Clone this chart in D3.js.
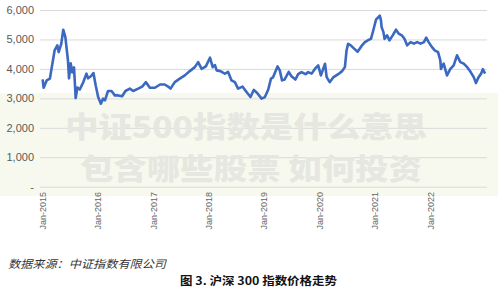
<!DOCTYPE html>
<html>
<head>
<meta charset="utf-8">
<script src="https://cdn.jsdelivr.net/npm/d3@7"></script>
<style>
  html, body { margin: 0; padding: 0; background: #fff; }
  svg { display: block; }
</style>
</head>
<body>
<div id="chart"></div>
<script>
// CSI 300 closing level
const dates = [
  "2015-01-05","2015-01-12","2015-02-01","2015-02-22","2015-03-25","2015-04-12","2015-04-21","2015-05-08",
  "2015-05-21","2015-06-04","2015-06-21","2015-06-28","2015-07-09","2015-07-20","2015-07-31","2015-08-11",
  "2015-08-22","2015-09-07","2015-09-29","2015-10-21","2015-11-01","2015-11-19","2015-12-06","2015-12-21",
  "2016-01-06","2016-01-24","2016-02-08","2016-02-20","2016-03-11","2016-04-03","2016-04-25","2016-05-16",
  "2016-06-12","2016-07-04","2016-08-02","2016-08-24","2016-09-26","2016-10-22","2016-11-16","2016-12-12",
  "2017-01-14","2017-02-17","2017-03-20","2017-04-11","2017-04-27","2017-05-25","2017-06-27","2017-07-30",
  "2017-09-01","2017-10-04","2017-10-26","2017-11-18","2017-12-16","2018-01-12","2018-01-30","2018-02-14",
  "2018-02-25","2018-03-22","2018-04-20","2018-05-11","2018-06-03","2018-06-25","2018-07-16","2018-08-14",
  "2018-09-10","2018-10-06","2018-10-28","2018-11-19","2018-12-18","2019-01-09","2019-01-31","2019-02-18",
  "2019-03-03","2019-04-02","2019-04-17","2019-05-02","2019-05-19","2019-06-15","2019-07-03","2019-07-29",
  "2019-08-16","2019-09-07","2019-10-04","2019-10-21","2019-11-13","2019-12-04","2019-12-26","2020-01-13",
  "2020-01-28","2020-02-09","2020-02-20","2020-03-11","2020-04-03","2020-05-06","2020-06-01","2020-06-19",
  "2020-06-30","2020-07-10","2020-07-28","2020-08-19","2020-09-11","2020-10-07","2020-10-29","2020-11-20",
  "2020-12-08","2020-12-23","2021-01-10","2021-02-04","2021-02-12","2021-02-16","2021-02-28","2021-03-07",
  "2021-03-24","2021-04-09","2021-04-30","2021-05-22","2021-06-08","2021-06-29","2021-07-17","2021-08-03",
  "2021-08-26","2021-09-17","2021-10-08","2021-10-31","2021-11-22","2021-12-07","2021-12-23","2022-01-14",
  "2022-02-01","2022-02-23","2022-03-10","2022-03-14","2022-04-01","2022-04-23","2022-05-15","2022-06-06",
  "2022-06-28","2022-07-20","2022-08-11","2022-09-03","2022-09-25","2022-10-16","2022-10-31","2022-11-17",
  "2022-12-04","2022-12-15","2022-12-30"
];
const closeValues = [
  3644,3360,3610,3670,4627,4800,4570,4850,
  5330,5080,4290,3680,4190,3880,4050,3010,
  3370,3300,3540,3840,3680,3750,3860,3440,
  3044,2820,2990,2930,3250,3250,3100,3100,
  3070,3250,3330,3250,3330,3400,3550,3360,
  3360,3470,3470,3400,3330,3550,3670,3780,
  3925,4060,4230,4000,4085,4380,4060,4130,
  3950,3925,3835,3900,3610,3550,3330,3400,
  3215,3044,3290,3180,2990,3044,3300,3670,
  3710,4085,3950,3610,3640,3900,3750,3640,
  3820,3890,3820,3890,3840,4000,4120,3780,
  4000,4175,3720,3550,3710,3820,3925,4060,
  4627,4850,4800,4690,4580,4780,4910,4980,
  5020,5305,5670,5810,5640,5420,5250,5020,
  5140,4970,5140,5330,5200,5140,5020,4800,
  4910,4860,4910,4860,4910,5060,4910,4740,
  4630,4570,4290,4000,4180,3780,4000,4120,
  4460,4230,4180,4060,3900,3720,3520,3720,
  3840,3990,3840
];
const yTicks = [0, 1000, 2000, 3000, 4000, 5000, 6000];
const xTickYears = [2015, 2016, 2017, 2018, 2019, 2020, 2021, 2022];
const watermarkLines = ["中证500指数是什么意思", "包含哪些股票 如何投资"];
const sourceText = "数据来源：中证指数有限公司";
const captionText = "图 3. 沪深 300 指数价格走势";

const W = 498, H = 293;
const parse = d3.timeParse("%Y-%m-%d");
const data = dates.map((d, i) => ({ date: parse(d), value: closeValues[i] }));

const svg = d3.select("#chart").append("svg")
  .attr("width", W)
  .attr("height", H);

const x = d3.scaleTime()
  .domain([new Date(2015, 0, 1), new Date(2023, 0, 1)])
  .range([42, 485.4]);

const y = d3.scaleLinear()
  .domain([0, 6000])
  .range([186.7, 10]);

// watermark band (sits behind the plot)
svg.append("rect")
  .attr("x", 0).attr("y", 93)
  .attr("width", W).attr("height", 103)
  .attr("fill", "#f8f9ee");

// gridlines + y labels
const yAxis = d3.axisLeft(y)
  .tickValues(yTicks)
  .tickSize(-447)
  .tickPadding(6)
  .tickFormat(d => d === 0 ? "-" : d3.format(",")(d));

const gy = svg.append("g")
  .attr("transform", "translate(40,0)")
  .call(yAxis);
gy.select(".domain").remove();
gy.selectAll(".tick line").attr("stroke", "#d9d9d9").attr("stroke-width", 1);
gy.selectAll(".tick text")
  .attr("fill", "#595959")
  .style("font-family", "Liberation Sans, Arial, sans-serif")
  .style("font-size", "11px");

// x labels, rotated
const xAxis = d3.axisBottom(x)
  .tickValues(xTickYears.map(yr => new Date(yr, 0, 1)))
  .tickSize(0)
  .tickFormat(d3.timeFormat("Jan-%Y"));

const gx = svg.append("g")
  .attr("transform", "translate(0,190)")
  .call(xAxis);
gx.select(".domain").remove();
gx.selectAll(".tick text")
  .attr("transform", "rotate(-90)")
  .attr("text-anchor", "end")
  .attr("x", -2)
  .attr("y", 0)
  .attr("dy", "0.35em")
  .attr("fill", "#666")
  .style("font-family", "Liberation Sans, Arial, sans-serif")
  .style("font-size", "9px");

// index line
const line = d3.line()
  .x(d => x(d.date))
  .y(d => y(d.value));

svg.append("path")
  .datum(data)
  .attr("fill", "none")
  .attr("stroke", "#3b68c0")
  .attr("stroke-width", 2.6)
  .attr("stroke-linejoin", "round")
  .attr("d", line);

// watermark text
const wm = svg.append("g")
  .style("font-family", "'Noto Sans CJK SC', sans-serif")
  .style("font-weight", 900)
  .style("font-size", "29px")
  .attr("fill", "#e7e7e1");

wm.selectAll("text")
  .data(watermarkLines)
  .enter()
  .append("text")
  .attr("x", (d, i) => i === 0 ? 65 : 80)
  .attr("y", (d, i) => 138 + i * 42)
  .attr("textLength", (d, i) => i === 0 ? 362 : 342)
  .attr("lengthAdjust", "spacingAndGlyphs")
  .text(d => d);

// source note
svg.append("text")
  .attr("x", 8)
  .attr("y", 268)
  .attr("fill", "#333")
  .style("font-family", "'Noto Sans CJK SC', sans-serif")
  .style("font-style", "italic")
  .style("font-size", "11px")
  .attr("textLength", 158)
  .attr("lengthAdjust", "spacingAndGlyphs")
  .text(sourceText);

// caption
svg.append("text")
  .attr("x", 180)
  .attr("y", 285)
  .attr("fill", "#111")
  .style("font-family", "'Noto Sans CJK SC', sans-serif")
  .style("font-weight", "bold")
  .style("font-size", "11px")
  .attr("textLength", 157)
  .attr("lengthAdjust", "spacingAndGlyphs")
  .text(captionText);
</script>
</body>
</html>
